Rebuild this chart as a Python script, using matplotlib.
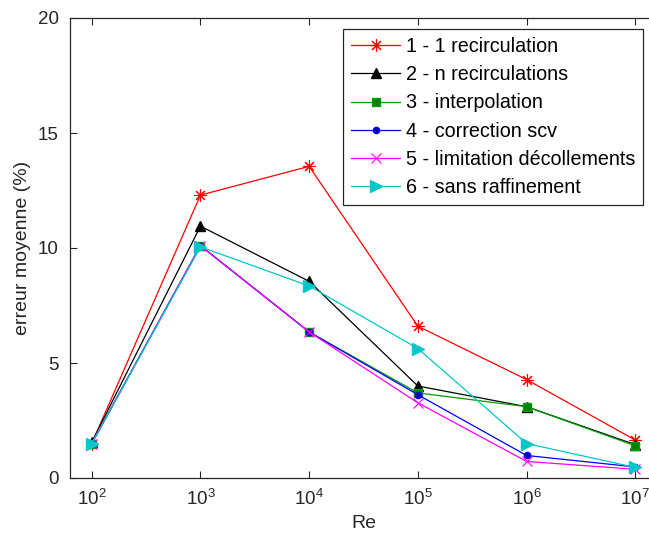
import matplotlib.pyplot as plt
from matplotlib.ticker import FixedLocator, NullLocator

plt.rcParams['font.family'] = ['Liberation Sans', 'DejaVu Sans']
plt.rcParams['mathtext.fontset'] = 'custom'
plt.rcParams['mathtext.rm'] = 'Liberation Sans'
plt.rcParams['mathtext.it'] = 'Liberation Sans'

# Data
re_vals = [1e2, 1e3, 1e4, 1e5, 1e6, 1e7]
err_1 = [1.5, 12.3, 13.55, 6.6, 4.28, 1.65]
err_2 = [1.55, 10.95, 8.55, 4.0, 3.1, 1.45]
err_3 = [1.5, 10.1, 6.35, 3.7, 3.1, 1.4]
err_4 = [1.5, 10.1, 6.35, 3.62, 0.98, 0.48]
err_5 = [1.5, 10.1, 6.35, 3.27, 0.72, 0.38]
err_6 = [1.5, 10.05, 8.35, 5.63, 1.5, 0.46]
labels = ['1 - 1 recirculation', '2 - n recirculations', '3 - interpolation',
          '4 - correction scv', '5 - limitation décollements', '6 - sans raffinement']

fig = plt.figure(figsize=(6.49, 5.44), dpi=100)
# axes box runs a bit past the right edge, like the cropped original
ax = fig.add_axes([70/649, (544-478)/544, (657-70)/649, (478-18)/544])

ax.plot(re_vals, err_1, color='red', marker=(8, 2, 0), ms=9, mew=0.8, lw=0.9, label=labels[0])
ax.plot(re_vals, err_2, color='black', marker='^', ms=7, lw=0.9, label=labels[1])
ax.plot(re_vals, err_3, color='#00a000', marker='s', ms=6, mfc='#008000', mec='#00a000', lw=0.9, label=labels[2])
ax.plot(re_vals, err_4, color='blue', marker='o', ms=4.5, mfc='#0000b0', lw=0.9, label=labels[3])
ax.plot(re_vals, err_5, color='magenta', marker='x', ms=7, mew=0.8, lw=0.9, label=labels[4])
ax.plot(re_vals, err_6, color='#00c8c8', marker='>', ms=8, lw=0.9, label=labels[5])

ax.set_xscale('log')
ax.set_xlim(10**1.8, 10**7.2)
ax.set_ylim(0, 20)
ax.xaxis.set_major_locator(FixedLocator(re_vals))
ax.xaxis.set_minor_locator(NullLocator())
ax.set_yticks([0, 5, 10, 15, 20])
ax.set_xticklabels([r'$\mathregular{10^{%d}}$' % i for i in range(2, 8)])
ax.tick_params(direction='in', top=True, right=True, length=5, width=0.8,
               labelsize=13.5, colors='#262626', pad=8)
for s in ax.spines.values():
    s.set_color('#262626')
    s.set_linewidth(0.9)

ax.set_xlabel('Re', fontsize=14, color='#262626', labelpad=4)
ax.set_ylabel('erreur moyenne (%)', fontsize=14, color='#262626', labelpad=5)

leg = ax.legend(loc='upper left', bbox_to_anchor=((343-70)/587, (478-29)/460),
                fontsize=14.2, frameon=True, fancybox=False, edgecolor='#262626',
                handlelength=2.5, labelspacing=0.47, borderpad=0.4,
                handletextpad=0.3, borderaxespad=0, framealpha=1)
leg.get_frame().set_linewidth(0.9)

fig.savefig('out.png', dpi=100)
